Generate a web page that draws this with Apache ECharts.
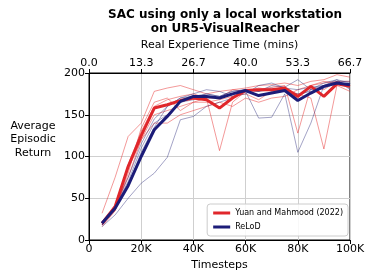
<!DOCTYPE html>
<html>
<head>
<meta charset="utf-8">
<script src="https://cdn.jsdelivr.net/npm/echarts@6/dist/echarts.min.js"></script>
<style>html,body{margin:0;padding:0;background:#fff;}#c{width:374px;height:280px;}</style>
</head>
<body>
<div id="c"></div>
<script>
const steps = [5000,10000,15000,20000,25000,30000,35000,40000,45000,50000,55000,60000,65000,70000,75000,80000,85000,90000,95000,100000];
const topTickLabels = ['0.0','13.3','26.7','40.0','53.3','66.7'];
const bottomTickLabels = ['0','20K','40K','60K','80K','100K'];

const yuanMean = [20,40,88,125,158,162,167,170,168,158,170,179,180,180,182,172,184,172,187,184];
const relodMean = [20,38,65,100,132,148,166,172,172,170,175,179,173,176,179,167,176,184,188,186];

const yuanRun1 = [32,75,124,140,178,182,185,180,175,178,180,182,185,186,188,185,190,192,198,195];
const yuanRun2 = [18,35,80,134,165,170,155,165,170,107,165,178,180,183,185,128,183,180,190,190];
const yuanRun3 = [18,38,75,120,150,155,160,165,165,168,172,175,168,178,180,175,170,109,185,178];
const yuanRun4 = [16,35,85,120,140,140,150,155,160,165,160,170,165,170,172,180,185,190,188,185];
const yuanRun5 = [18,40,90,130,160,168,172,175,170,170,180,178,182,180,178,170,185,188,190,185];

const relodRun1 = [16,30,50,68,80,99,144,148,160,165,170,178,146,147,175,105,140,185,188,182];
const relodRun2 = [18,40,70,110,140,150,165,170,175,172,178,180,178,185,183,192,180,188,192,188];
const relodRun3 = [20,42,75,115,145,160,170,175,180,178,172,175,185,188,182,180,183,185,190,190];
const relodRun4 = [18,38,68,100,130,150,165,168,170,170,175,180,178,180,178,175,178,182,188,185];
const relodRun5 = [22,40,65,105,135,160,170,172,175,172,178,180,178,182,180,172,180,185,192,180];

const pairs = ys => steps.map((x, i) => [x, ys[i]]);
const thin = (name, ys, color) => ({
  name: name, type: 'line', data: pairs(ys), symbol: 'none', silent: true,
  lineStyle: { color: color, width: 0.8 }, z: 2
});

const series = [
  thin('y1', yuanRun1, 'rgba(230,40,40,0.6)'),
  thin('y2', yuanRun2, 'rgba(230,40,40,0.6)'),
  thin('y3', yuanRun3, 'rgba(230,40,40,0.6)'),
  thin('y4', yuanRun4, 'rgba(230,40,40,0.6)'),
  thin('y5', yuanRun5, 'rgba(230,40,40,0.6)'),
  thin('r1', relodRun1, 'rgba(25,25,112,0.5)'),
  thin('r2', relodRun2, 'rgba(25,25,112,0.5)'),
  thin('r3', relodRun3, 'rgba(25,25,112,0.5)'),
  thin('r4', relodRun4, 'rgba(25,25,112,0.5)'),
  thin('r5', relodRun5, 'rgba(25,25,112,0.5)'),
  { name: 'Yuan and Mahmood (2022)', type: 'line', data: pairs(yuanMean), symbol: 'none',
    lineStyle: { color: '#e0262b', width: 3 }, itemStyle: { color: '#e0262b' }, z: 4 },
  { name: 'ReLoD', type: 'line', data: pairs(relodMean), symbol: 'none',
    lineStyle: { color: '#1c1c78', width: 3 }, itemStyle: { color: '#1c1c78' }, z: 5 }
];

const font = 'DejaVu Sans';
const chart = echarts.init(document.getElementById('c'), null, { renderer: 'canvas' });
chart.setOption({
  animation: false,
  backgroundColor: '#fff',
  textStyle: { fontFamily: font },
  title: {
    text: 'SAC using only a local workstation\non UR5-VisualReacher',
    left: 220, top: 3, textAlign: 'center',
    textStyle: { fontFamily: font, fontSize: 12, fontWeight: 'bold', color: '#000', lineHeight: 14 }
  },
  graphic: [{
    type: 'text', left: 8, top: 119,
    style: { text: 'Average\nEpisodic\nReturn', fontFamily: font, fontSize: 11, fill: '#000',
      textAlign: 'center', lineHeight: 13.5, width: 50, align: 'center' }
  }],
  legend: {
    data: [
      { name: 'Yuan and Mahmood (2022)', icon: 'rect' },
      { name: 'ReLoD', icon: 'rect' }
    ],
    orient: 'vertical', right: 26, bottom: 44,
    itemWidth: 17, itemHeight: 3, itemGap: 6,
    backgroundColor: 'rgba(255,255,255,0.85)', borderColor: '#ccc', borderWidth: 1, borderRadius: 3,
    padding: [5, 5, 5, 6],
    textStyle: { fontFamily: font, fontSize: 8, color: '#000', padding: [0,0,0,0] }
  },
  grid: { left: 89, right: 24, top: 73, bottom: 40, show: true, borderColor: '#000', borderWidth: 1 },
  xAxis: [{
    type: 'value', min: 0, max: 100000, interval: 20000, position: 'bottom',
    name: 'Timesteps', nameLocation: 'middle', nameGap: 20,
    nameTextStyle: { fontFamily: font, fontSize: 11, color: '#000' },
    axisLine: { show: true, lineStyle: { color: '#000', width: 1 } },
    axisTick: { show: true, length: 4, lineStyle: { color: '#000' } },
    axisLabel: { fontFamily: font, fontSize: 11, color: '#000', margin: 4,
      formatter: (v) => bottomTickLabels[Math.round(v / 20000)] },
    splitLine: { show: true, lineStyle: { color: '#cfcfcf', width: 1 } }
  }, {
    type: 'value', min: 0, max: 100000, interval: 20000, position: 'top',
    name: 'Real Experience Time (mins)', nameLocation: 'middle', nameGap: 22,
    nameTextStyle: { fontFamily: font, fontSize: 11, color: '#000' },
    axisLine: { show: true, lineStyle: { color: '#000', width: 1 } },
    axisTick: { show: true, length: 4, lineStyle: { color: '#000' } },
    axisLabel: { fontFamily: font, fontSize: 11, color: '#000', margin: 4,
      formatter: (v) => topTickLabels[Math.round(v / 20000)] },
    splitLine: { show: false }
  }],
  yAxis: {
    type: 'value', min: 0, max: 200, interval: 50,
    axisLine: { show: true, lineStyle: { color: '#000', width: 1 } },
    axisTick: { show: true, length: 4, lineStyle: { color: '#000' } },
    axisLabel: { fontFamily: font, fontSize: 11, color: '#000', margin: 4 },
    splitLine: { show: true, lineStyle: { color: '#cfcfcf', width: 1 } }
  },
  series: series
});
</script>
</body>
</html>
